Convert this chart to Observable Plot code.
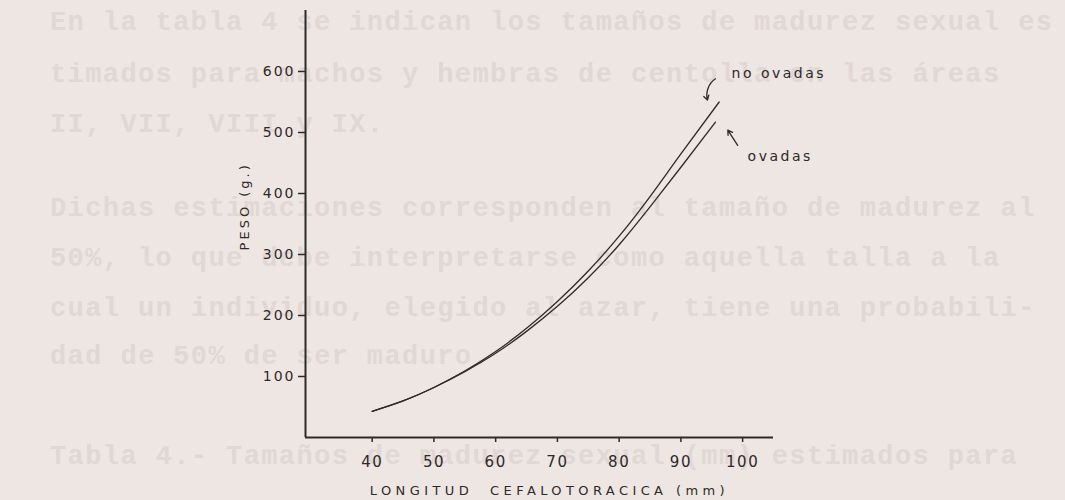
<!DOCTYPE html>
<html>
<head>
<meta charset="utf-8">
<script src="https://cdn.jsdelivr.net/npm/d3@7"></script>
<script src="https://cdn.jsdelivr.net/npm/@observablehq/plot@0.6"></script>
<style>
  html, body { margin: 0; padding: 0; background: #eee6e2; }
  #page { position: relative; width: 1065px; height: 500px; overflow: hidden; background: #eee6e2; }
  #bleed { position: absolute; left: 0; top: 0; width: 1065px; height: 500px; }
  #bleed div { position: absolute; left: 50px; white-space: pre; font-family: "Liberation Mono", "DejaVu Sans Mono", monospace;
    font-weight: bold; font-size: 27px; letter-spacing: 1.4px; color: #e1d7d4; line-height: 1; }
  #chart { position: absolute; left: 0; top: 0; }
  #chart svg { background: transparent; }
  #chart svg text { fill: #2d2a28; }
  g[aria-label="x-axis tick label"] text { font-size: 15px; letter-spacing: 1.5px; }
  g[aria-label="y-axis tick label"] text { font-size: 14px; letter-spacing: 2px; }
</style>
</head>
<body>
<div id="page">
  <div id="bleed"></div>
  <div id="chart"></div>
</div>
<script>
// Bleed-through typed text from the page (faint background)
const bleedLines = [
  "En la tabla 4 se indican los tamaños de madurez sexual es",
  "timados para machos y hembras de centolla en las áreas",
  "II, VII, VIII y IX.",
  "Dichas estimaciones corresponden al tamaño de madurez al",
  "50%, lo que debe interpretarse como aquella talla a la",
  "cual un individuo, elegido al azar, tiene una probabili-",
  "dad de 50% de ser maduro.",
  "Tabla 4.- Tamaños de madurez sexual (mm) estimados para"
];
const bleedTops = [10, 62, 112, 196, 246, 296, 344, 444];

// Chart data: longitud cefalotorácica (mm) vs peso (g)
const lcNoOvadas = [40, 45, 50, 55, 60, 65, 70, 75, 80, 85, 90, 96.2];
const pesoNoOvadas = [43, 60, 82, 109, 141, 179, 223, 273, 330, 395, 465, 550];
const lcOvadas = [40, 45, 50, 55, 60, 65, 70, 75, 80, 85, 90, 95.6];
const pesoOvadas = [43, 60, 82, 108, 138, 174, 215, 262, 316, 378, 443, 517];

const xTicks = [40, 50, 60, 70, 80, 90, 100];
const yTicks = [100, 200, 300, 400, 500, 600];
const seriesLabels = ["no ovadas", "ovadas"];
const xLabel = "LONGITUD  CEFALOTORACICA (mm)";
const yLabel = "PESO (g.)";

const bleed = document.getElementById("bleed");
bleedLines.forEach((t, i) => {
  const d = document.createElement("div");
  d.textContent = t;
  d.style.top = bleedTops[i] + "px";
  bleed.appendChild(d);
});

const noOvadas = lcNoOvadas.map((x, i) => ({x, y: pesoNoOvadas[i]}));
const ovadas = lcOvadas.map((x, i) => ({x, y: pesoOvadas[i]}));
const ink = "#2d2a28";

const chart = Plot.plot({
  width: 1065,
  height: 500,
  marginLeft: 305,
  marginRight: 292,
  marginTop: 10,
  marginBottom: 63,
  style: {background: "transparent", color: ink, fontFamily: "DejaVu Sans, sans-serif"},
  x: {domain: [29.2, 105], axis: null},
  y: {domain: [0, 700], axis: null},
  marks: [
    Plot.axisX({ticks: xTicks, tickSize: 5, tickPadding: 14, label: null, stroke: ink, strokeWidth: 1.5}),
    Plot.axisY({ticks: yTicks, tickSize: 7, tickPadding: 3, label: null, stroke: ink, strokeWidth: 1.5}),
    Plot.ruleX([29.2], {stroke: ink, strokeWidth: 2}),
    Plot.ruleY([0], {stroke: ink, strokeWidth: 2.2}),
    Plot.line(noOvadas, {x: "x", y: "y", curve: "natural", stroke: ink, strokeWidth: 1.3}),
    Plot.line(ovadas, {x: "x", y: "y", curve: "natural", stroke: ink, strokeWidth: 1.3}),
    Plot.text([seriesLabels[0]], {x: 98.2, y: 597, text: d => d, textAnchor: "start", fontSize: 14, fill: ink}),
    Plot.text([seriesLabels[1]], {x: 100.8, y: 461, text: d => d, textAnchor: "start", fontSize: 14, fill: ink}),
    Plot.arrow([{x1: 95.6, y1: 588, x2: 94.3, y2: 553}], {x1: "x1", y1: "y1", x2: "x2", y2: "y2", bend: -35, headLength: 6, stroke: ink, strokeWidth: 1.3}),
    Plot.arrow([{x1: 99.2, y1: 479, x2: 97.6, y2: 504}], {x1: "x1", y1: "y1", x2: "x2", y2: "y2", headLength: 6, stroke: ink, strokeWidth: 1.3}),
    Plot.text([xLabel], {x: 68.7, y: -87, text: d => d, fontSize: 13, fill: ink}),
    Plot.text([yLabel], {x: 19.45, y: 379, rotate: -90, text: d => d, fontSize: 13, fill: ink})
  ]
});
document.getElementById("chart").appendChild(chart);
// letter-spacing on annotation texts
chart.querySelectorAll('text').forEach(t => {
  const s = t.textContent;
  if (s === xLabel) t.style.letterSpacing = "4.4px";
  else if (s === yLabel) t.style.letterSpacing = "3px";
  else if (seriesLabels.includes(s)) t.style.letterSpacing = "2.5px";
});
</script>
</body>
</html>
